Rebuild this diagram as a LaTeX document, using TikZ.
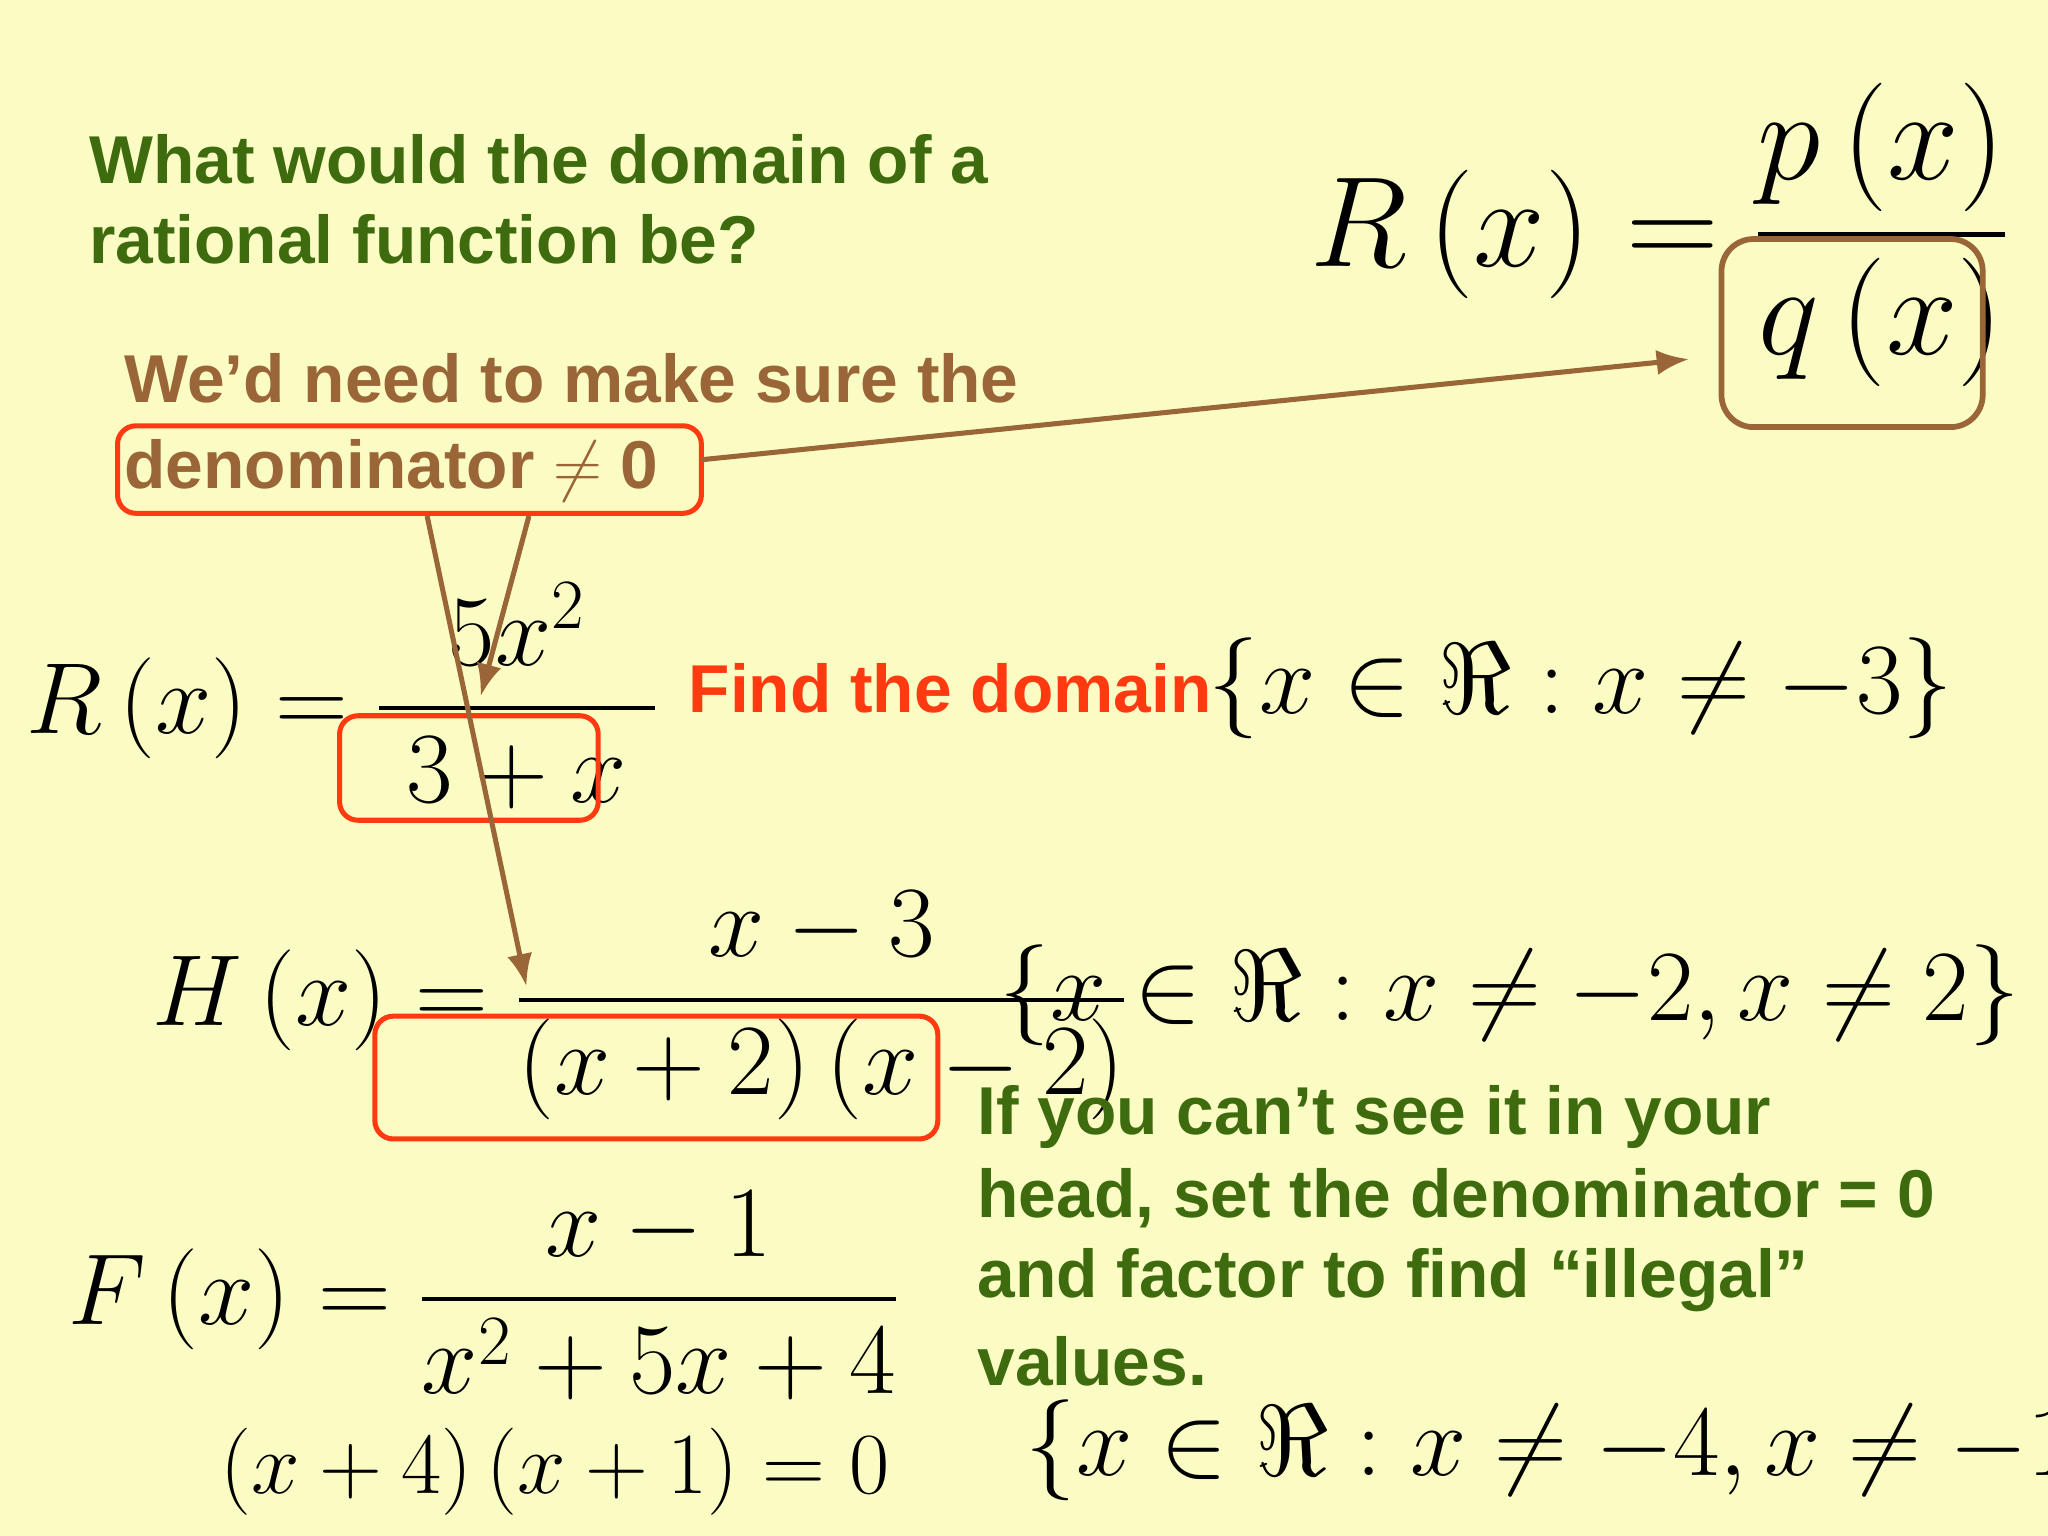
\RequirePackage{fix-cm}
\documentclass[tikz,border=0pt]{standalone}
\usepackage{amsmath,amssymb}
\usepackage{fontspec}
\usetikzlibrary{arrows.meta}
\setmainfont{Liberation Sans}
\definecolor{bg}{HTML}{FBFBC4}
\definecolor{grn}{HTML}{3D6B0E}
\definecolor{brn}{HTML}{9A6638}
\definecolor{rd}{HTML}{FF3A10}
\begin{document}
\begin{tikzpicture}[x=0.02cm,y=-0.02cm,
  gtxt/.style={anchor=west,text=grn,font=\fontsize{29.5}{34}\selectfont\bfseries,align=left,inner sep=0},
  btxt/.style={anchor=west,text=brn,font=\fontsize{29.5}{34}\selectfont\bfseries,inner sep=0},
  mth/.style={anchor=center,inner sep=0,font=\fontsize{44}{52}\selectfont},
  bigm/.style={anchor=center,inner sep=0,font=\fontsize{56}{64}\selectfont},
  rbox/.style={draw=rd,line width=2.2pt,rounded corners=8pt},
  arr/.style={draw=brn,line width=2.2pt,-{Latex[length=14pt,width=11pt]}}]
\fill[bg] (0,0) rectangle (1568,1176);
\useasboundingbox (0,0) rectangle (1568,1176);
\node[gtxt] (t1) at (68,122) {What would the domain of a};
\node[gtxt] (t2) at (68,183) {rational function be?};
\node[bigm] (rq) at (1270,180) {$R\left(x\right)=\dfrac{p\left(x\right)}{q\left(x\right)}$};
\draw[brn,line width=2.5pt,rounded corners=14pt] (1318,183) rectangle (1518,327);
\coordinate (qb) at (1293,275);
\node[btxt] (b1) at (95,290) {We’d need to make sure the};
\node[btxt] (b2) at (95,360) {denominator $\neq$ 0};
\draw[rbox] (90,326) rectangle (537,393);
\coordinate (bx) at (537,352);
\draw[arr] (bx) -- (qb);
\node[mth] (r1) at (262,533) {$R\left(x\right)=\dfrac{5x^2}{\;3+x\;}$};
\draw[rbox] (260,548) rectangle (458,628);
\node[anchor=west,inner sep=0,text=rd,font=\fontsize{29.5}{34}\selectfont\bfseries] (fd) at (527,527) {Find the domain};
\node[mth,anchor=west] (s1) at (925,527) {$\left\{x\in\Re:x\neq-3\right\}$};
\node[mth] (h1) at (490,770) {$H\left(x\right)=\dfrac{x-3}{\left(x+2\right)\left(x-2\right)}$};
\draw[rbox] (287,778) rectangle (718,872);
\coordinate (a1s) at (405,395);\coordinate (a1e) at (368,533);
\coordinate (a2s) at (327,395);\coordinate (a2e) at (403,755);
\draw[arr] (a1s) -- (a1e);
\draw[arr] (a2s) -- (a2e);
\node[mth,anchor=west] (s2) at (765,762) {$\left\{x\in\Re:x\neq-2,x\neq2\right\}$};
\node[gtxt] (g1) at (748,855) {If you can’t see it in your};
\node[gtxt] (g2) at (748,917) {head, set the denominator = 0};
\node[gtxt] (g3) at (748,980) {and factor to find “illegal”};
\node[gtxt] (g4) at (748,1042) {values.};
\node[mth] (f1) at (370,992) {$F\left(x\right)=\dfrac{x-1}{x^2+5x+4}$};
\node[mth,font=\fontsize{38}{44}\selectfont] (f2) at (425,1127) {$\left(x+4\right)\left(x+1\right)=0$};
\node[mth,anchor=west] (s3) at (785,1110) {$\left\{x\in\Re:x\neq-4,x\neq-1\right\}$};
\end{tikzpicture}
\end{document}
